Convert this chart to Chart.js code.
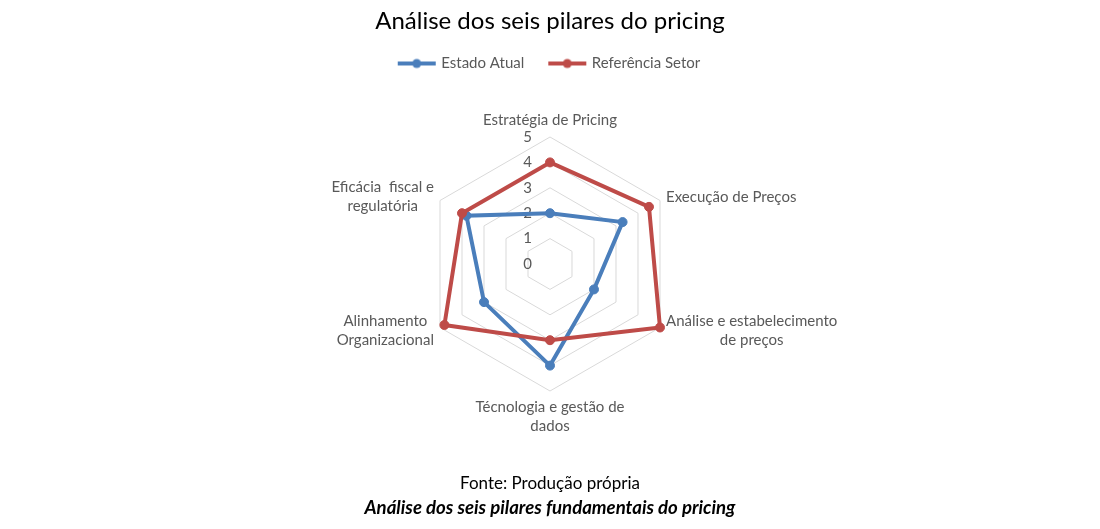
<!DOCTYPE html>
<html>
<head>
<meta charset="utf-8">
<script src="https://cdn.jsdelivr.net/npm/chart.js@4.4.1/dist/chart.umd.min.js"></script>
<style>
  html, body { margin: 0; padding: 0; background: #fff; }
  #wrap { position: relative; width: 1100px; height: 529px; }
  #grafico { position: absolute; left: 0; top: 0; }
  .rodape { position: absolute; left: 0; width: 1100px; text-align: center; color: #000; font-family: Lato, sans-serif; font-size: 17px; line-height: 24px; }
  #fonte { top: 471px; }
  #legenda { top: 495px; font-weight: bold; font-style: italic; font-size: 18.6px; }
</style>
</head>
<body>
<div id="wrap">
  <canvas id="grafico" width="1100" height="529"></canvas>
  <div class="rodape" id="fonte">Fonte: Produção própria</div>
  <div class="rodape" id="legenda">Análise dos seis pilares fundamentais do pricing</div>
</div>
<script>
// os seis pilares (eixos do radar)
const pilares = [
    ['Estratégia de Pricing'],
    ['Execução de Preços'],
    ['Análise e estabelecimento', 'de preços'],
    ['Técnologia e gestão de', 'dados'],
    ['Alinhamento', 'Organizacional'],
    ['Eficácia  fiscal e', 'regulatória']
];
const estadoAtual = [2, 3.3, 2, 4, 3, 3.8];
const referenciaSetor = [4, 4.5, 5, 3, 4.8, 4];
const escala = [0, 1, 2, 3, 4, 5];

const azul = '#4A7EBB';
const vermelho = '#BE4B48';
const cinza = '#595959';
const fonte = 'Lato, sans-serif';

// simbolo da legenda: linha com bolinha no meio
function simbolo(cor) {
    const c = document.createElement('canvas');
    c.width = 40;
    c.height = 12;
    const g = c.getContext('2d');
    g.strokeStyle = cor;
    g.lineWidth = 4;
    g.beginPath();
    g.moveTo(1, 6);
    g.lineTo(39, 6);
    g.stroke();
    g.fillStyle = cor;
    g.beginPath();
    g.arc(20, 6, 4.5, 0, Math.PI * 2);
    g.fill();
    return c;
}

// empurra a area do radar para baixo da legenda
const espacoLegenda = {
    id: 'espacoLegenda',
    beforeInit(chart) {
        const legend = chart.legend;
        const fitOriginal = legend.fit;
        legend.fit = function () {
            fitOriginal.call(this);
            this.height += 56;
        };
    }
};

// rotulos da escala e dos eixos
const rotulos = {
    id: 'rotulos',
    beforeDatasetsDraw(chart) {
        const r = chart.scales.r;
        const ctx = chart.ctx;
        ctx.save();
        ctx.fillStyle = cinza;
        ctx.font = '15px ' + fonte;
        ctx.textAlign = 'right';
        ctx.textBaseline = 'middle';
        r.ticks.forEach(t => {
            ctx.fillText(t.label, r.xCenter - 18, r.yCenter - r.getDistanceFromCenterForValue(t.value));
        });

        ctx.textAlign = 'center';
        const n = chart.data.labels.length;
        const alturaLinha = 19;
        chart.data.labels.forEach((rotulo, i) => {
            const linhas = [].concat(rotulo);
            const p = r.getPointPosition(i, r.drawingArea + 7);
            const ang = i * 2 * Math.PI / n;
            const s = Math.sin(ang), c = Math.cos(ang);
            const largura = Math.max(...linhas.map(l => ctx.measureText(l).width));
            const altura = linhas.length * alturaLinha;
            let cx = p.x;
            if (s > 0.01) cx = p.x + largura / 2;
            else if (s < -0.01) cx = p.x - largura / 2;
            let topo = p.y - altura / 2;
            if (c > 0.99) topo = p.y - altura;
            else if (c < -0.99) topo = p.y;
            linhas.forEach((l, k) => {
                ctx.fillText(l, cx, topo + alturaLinha * (k + 0.5));
            });
        });
        ctx.restore();
    }
};

const dados = {
    labels: pilares,
    datasets: [
        {
            label: 'Estado Atual',
            data: estadoAtual,
            borderColor: azul,
            backgroundColor: azul,
            pointBackgroundColor: azul,
            pointBorderColor: azul,
            borderWidth: 4,
            pointRadius: 4.5,
            pointBorderWidth: 1,
            fill: false,
            order: 1
        },
        {
            label: 'Referência Setor',
            data: referenciaSetor,
            borderColor: vermelho,
            backgroundColor: vermelho,
            pointBackgroundColor: vermelho,
            pointBorderColor: vermelho,
            borderWidth: 4,
            pointRadius: 4.5,
            pointBorderWidth: 1,
            fill: false,
            order: 0
        }
    ]
};

const config = {
    type: 'radar',
    data: dados,
    options: {
        responsive: false,
        animation: false,
        layout: {
            padding: { top: 0, bottom: 137, left: 0, right: 0 }
        },
        elements: {
            line: { tension: 0 }
        },
        scales: {
            r: {
                min: escala[0],
                max: escala[escala.length - 1],
                ticks: {
                    stepSize: 1,
                    display: false
                },
                grid: {
                    circular: false,
                    color: '#D9D9D9',
                    lineWidth: 1
                },
                angleLines: { display: false },
                pointLabels: { display: false }
            }
        },
        plugins: {
            title: {
                display: true,
                text: 'Análise dos seis pilares do pricing',
                color: '#000',
                font: { family: fonte, size: 24, weight: 'normal', lineHeight: '18px' },
                padding: { top: 12, bottom: 0 }
            },
            legend: {
                display: true,
                position: 'top',
                labels: {
                    color: cinza,
                    font: { family: fonte, size: 15 },
                    usePointStyle: true,
                    pointStyleWidth: 34,
                    padding: 26,
                    sort: (a, b) => a.datasetIndex - b.datasetIndex,
                    generateLabels: chart => chart.data.datasets.map((ds, i) => ({
                        text: ds.label,
                        fontColor: cinza,
                        pointStyle: simbolo(ds.borderColor),
                        datasetIndex: i,
                        hidden: false,
                        lineWidth: 0
                    }))
                }
            },
            tooltip: { enabled: false }
        }
    },
    plugins: [espacoLegenda, rotulos]
};

const grafico = new Chart(document.getElementById('grafico'), config);
</script>
</body>
</html>
